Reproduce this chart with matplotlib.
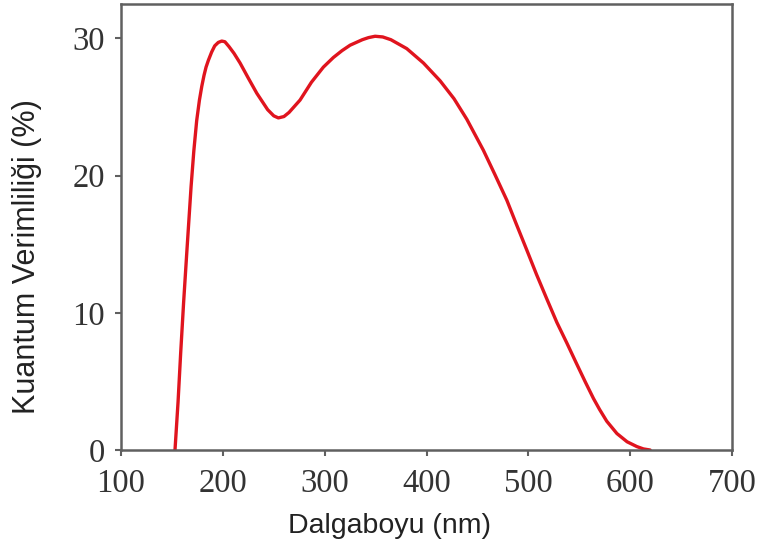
import numpy as np
import matplotlib
matplotlib.use("Agg")
import matplotlib.pyplot as plt


# =========================
# Data
# =========================
wavelength = [153, 156, 158.6, 161.5, 164.5, 168.8, 171.5, 174.3, 177, 179.3, 181.5,
              183.5, 185.8, 189, 192, 195.5, 198.9, 202, 206, 211, 216.9, 225,
              233.3, 244, 250, 254.5, 260, 265, 275.8, 287, 298.7, 308.5, 317,
              325, 337, 343, 349.5, 357, 365, 380.6, 397, 413.4, 427, 439.6,
              455.8, 467, 478.9, 488, 498.5, 508, 518.2, 528, 537.8, 547, 556,
              564, 570, 577, 587, 597, 606.6, 613, 619.6]
efficiency = [0.0, 3.5, 7.1, 10.8, 14.3, 19.2, 21.8, 24.0, 25.5, 26.5, 27.3,
              27.9, 28.4, 29.0, 29.45, 29.7, 29.8, 29.75, 29.4, 28.9, 28.2, 27.1,
              26.0, 24.8, 24.35, 24.2, 24.3, 24.6, 25.5, 26.8, 27.9, 28.6, 29.1,
              29.5, 29.9, 30.05, 30.15, 30.1, 29.9, 29.25, 28.2, 26.9, 25.6, 24.1,
              21.85, 20.1, 18.2, 16.5, 14.57, 12.8, 11.0, 9.3, 7.8, 6.35, 4.95,
              3.75, 2.95, 2.1, 1.2, 0.6, 0.25, 0.08, 0.0]

x_ticks = [100, 200, 300, 400, 500, 600, 700]
y_ticks = [0, 10, 20, 30]


# =========================
# Plot
# =========================
fig = plt.figure(figsize=(7.66, 5.49), dpi=100)
ax = fig.add_axes([0.158, 0.1803, 0.7976, 0.8124])

ax.plot(wavelength, efficiency, color="#e0141e", linewidth=2.4,
        solid_capstyle="round", solid_joinstyle="round")

ax.set_xlim(100, 700)
ax.set_ylim(0, 32.5)
ax.set_xticks(x_ticks)
ax.set_yticks(y_ticks)

for sp in ax.spines.values():
    sp.set_color("#606060")
    sp.set_linewidth(1.8)

ax.tick_params(direction="out", length=4.5, width=1.5, color="#606060",
               labelcolor="#333333")
ax.tick_params(axis="x", pad=9)
ax.tick_params(axis="y", pad=7)
for lab in ax.get_xticklabels() + ax.get_yticklabels():
    lab.set_family("Liberation Serif")
    lab.set_fontsize(23.5)

ax.set_xlabel("Dalgaboyu (nm)", family="Liberation Sans", fontsize=20.5, color="#222222")
ax.set_ylabel("Kuantum Verimliliği (%)", family="Liberation Sans", fontsize=22, color="#222222")
ax.xaxis.set_label_coords(0.439, -0.141)
ax.yaxis.set_label_coords(-0.129, 0.433)

fig.savefig("out.png", dpi=100)
